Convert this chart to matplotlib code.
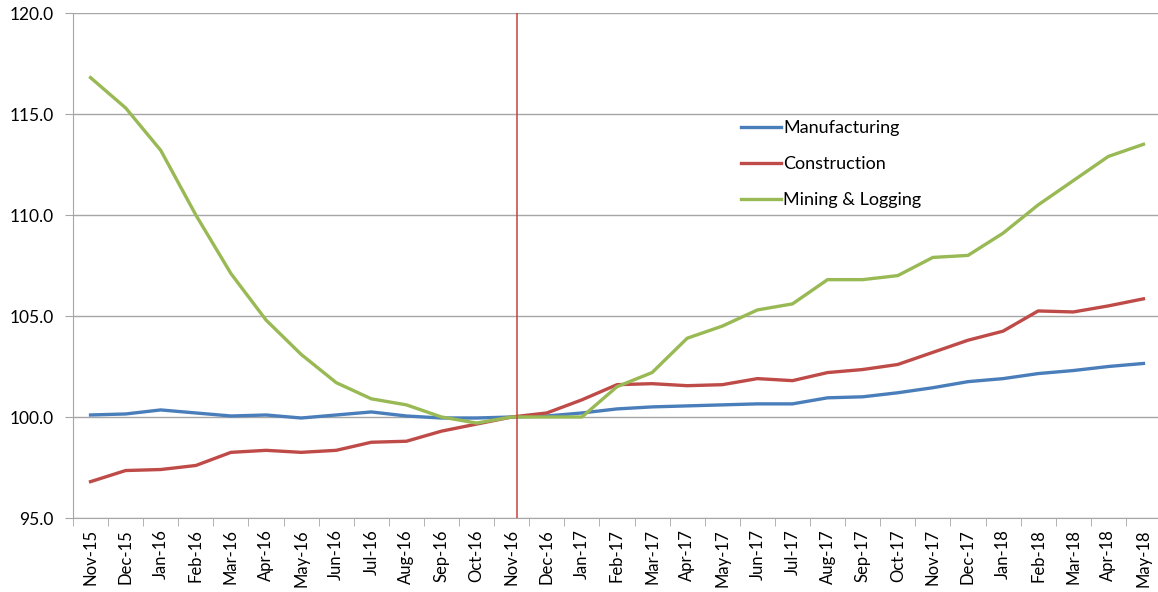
import numpy as np
import matplotlib.pyplot as plt
from matplotlib.ticker import FormatStrFormatter, FixedLocator

plt.rcParams['font.family'] = ['Lato', 'DejaVu Sans']

months = ['Nov-15', 'Dec-15', 'Jan-16', 'Feb-16', 'Mar-16', 'Apr-16', 'May-16', 'Jun-16',
          'Jul-16', 'Aug-16', 'Sep-16', 'Oct-16', 'Nov-16', 'Dec-16', 'Jan-17', 'Feb-17',
          'Mar-17', 'Apr-17', 'May-17', 'Jun-17', 'Jul-17', 'Aug-17', 'Sep-17', 'Oct-17',
          'Nov-17', 'Dec-17', 'Jan-18', 'Feb-18', 'Mar-18', 'Apr-18', 'May-18']

manufacturing = [100.1, 100.15, 100.35, 100.2, 100.05, 100.1, 99.95, 100.1, 100.25, 100.05,
                 99.95, 99.95, 100.0, 100.05, 100.2, 100.4, 100.5, 100.55, 100.6, 100.65,
                 100.65, 100.95, 101.0, 101.2, 101.45, 101.75, 101.9, 102.15, 102.3, 102.5,
                 102.65]

construction = [96.8, 97.35, 97.4, 97.6, 98.25, 98.35, 98.25, 98.35, 98.75, 98.8,
                99.3, 99.65, 100.0, 100.2, 100.85, 101.6, 101.65, 101.55, 101.6, 101.9,
                101.8, 102.2, 102.35, 102.6, 103.2, 103.8, 104.25, 105.25, 105.2, 105.5,
                105.85]

mining = [116.8, 115.3, 113.2, 110.0, 107.1, 104.8, 103.1, 101.7, 100.9, 100.6,
          100.0, 99.7, 100.0, 100.0, 100.0, 101.5, 102.2, 103.9, 104.5, 105.3,
          105.6, 106.8, 106.8, 107.0, 107.9, 108.0, 109.1, 110.5, 111.7, 112.9,
          113.5]

fig = plt.figure(figsize=(11.58, 5.92), dpi=100)
ax = fig.add_axes([73 / 1158, 74 / 592, 1088 / 1158, 505 / 592])

x = np.arange(len(months))
ax.plot(x, manufacturing, color='#4A7EBB', lw=2.4, label='Manufacturing')
ax.plot(x, construction, color='#BE4B48', lw=2.4, label='Construction')
ax.plot(x, mining, color='#98B954', lw=2.4, label='Mining & Logging')

# hand drawn marker line, sits a touch right of Nov-16
ax.axvline(months.index('Nov-16') + 0.15, color='#C8403C', lw=1.1)

ax.set_xlim(-0.5, len(months) - 0.5)
ax.set_ylim(95, 120)
ax.set_yticks(np.arange(95, 120.1, 5))
ax.yaxis.set_major_formatter(FormatStrFormatter('%.1f'))
ax.grid(axis='y', color='#A6A6A6', lw=1.0)
ax.set_axisbelow(True)

ax.set_xticks(x)
ax.set_xticklabels(months, rotation=90, fontsize=12)
ax.xaxis.set_minor_locator(FixedLocator(np.arange(-0.5, len(months), 1)))
ax.tick_params(axis='x', which='major', length=0, pad=8)
ax.tick_params(axis='x', which='minor', length=6, color='#A6A6A6')
ax.tick_params(axis='y', length=6, color='#A6A6A6', labelsize=12.5, pad=8)

for s in ['top', 'right']:
    ax.spines[s].set_visible(False)
for s in ['left', 'bottom']:
    ax.spines[s].set_color('#A6A6A6')

ax.legend(loc='center left', bbox_to_anchor=(0.599, 0.701), frameon=False, fontsize=13,
          handlelength=2.2, handletextpad=0.15, labelspacing=1.1)

plt.savefig('out.png')
